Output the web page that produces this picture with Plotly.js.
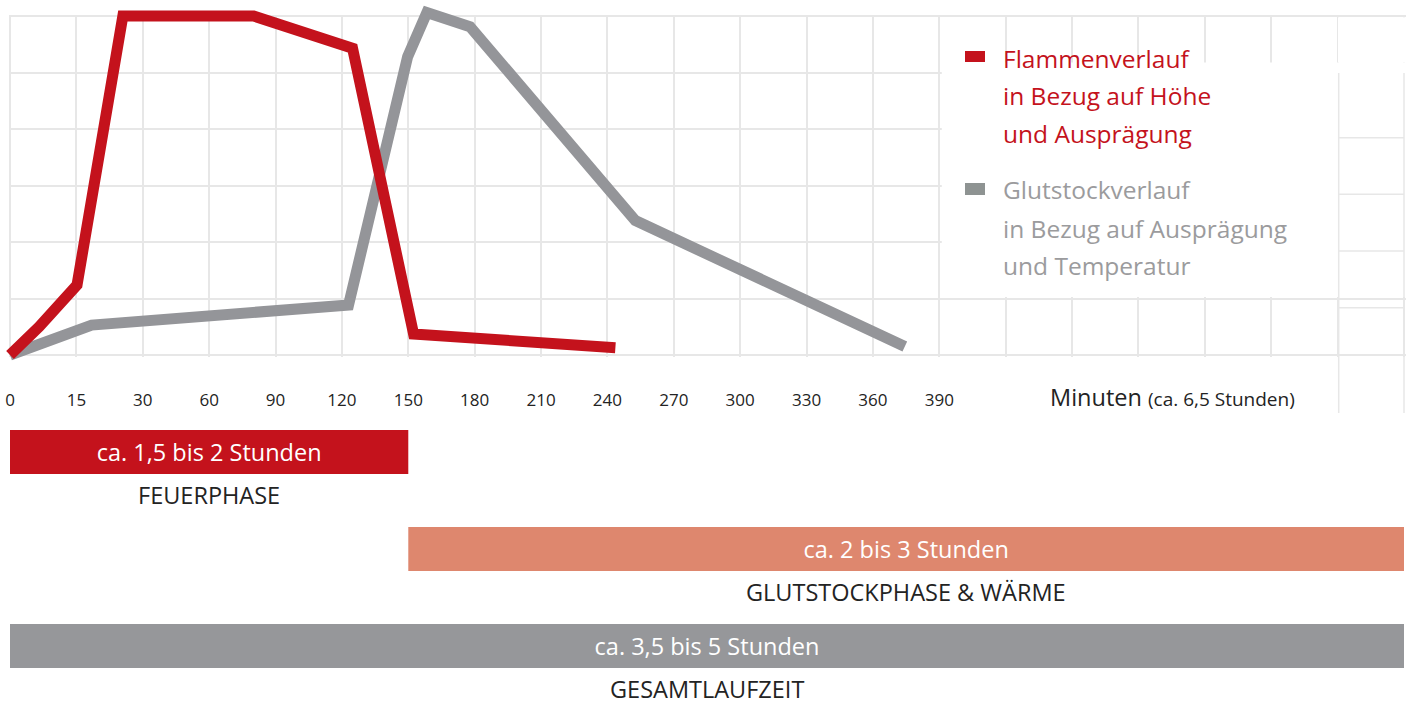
<!DOCTYPE html>
<html><head><meta charset="utf-8">
<script src="https://cdn.plot.ly/plotly-3.0.1.min.js"></script>
<style>html,body{margin:0;padding:0;background:#fff}#chart{width:1413px;height:705px}</style>
</head><body><div id="chart"></div>
<script>
// x positions are in grid-column units (one grid column per tick label step)
const tickLabels = ['0','15','30','60','90','120','150','180','210','240','270','300','330','360','390'];
const gridColumns = 21;
const gridRows = 6;

const seriesNames = ['Flammenverlauf', 'Glutstockverlauf'];
const flameX = [0, 0.44, 1.01, 1.70, 3.67, 5.16, 6.08, 9.12];
const flameY = [0, 0.50, 1.24, 6.00, 6.00, 5.43, 0.37, 0.13];
const emberX = [0, 1.23, 5.10, 5.99, 6.28, 6.93, 9.42, 13.48];
const emberY = [0, 0.53, 0.885, 5.28, 6.06, 5.81, 2.38, 0.15];

const legendLines = [
  ['Flammenverlauf', 'in Bezug auf Höhe', 'und Ausprägung'],
  ['Glutstockverlauf', 'in Bezug auf Ausprägung', 'und Temperatur']
];

const phaseStart = [0, 6, 0];
const phaseEnd = [6, 21, 21];
const phaseDuration = ['ca. 1,5 bis 2 Stunden', 'ca. 2 bis 3 Stunden', 'ca. 3,5 bis 5 Stunden'];
const phaseName = ['FEUERPHASE', 'GLUTSTOCKPHASE &amp; WÄRME', 'GESAMTLAUFZEIT'];

const axisTitle = 'Minuten';
const axisSubtitle = '(ca. 6,5 Stunden)';

// ---- styling ----
const RED = '#c4121c', GRAYLINE = '#949599', SALMON = '#de876e', GRAYBAR = '#96979a';
const LEG_GRAY_TXT = '#9b9b9d', LEG_GRAY_SQ = '#8e9392', DARK = '#232323', GRID = '#e7e7e7';
const FONT = '"Open Sans", Lato, sans-serif';

const W = 1413, H = 705;
const X = px => px / W, Y = py => 1 - py / H;
const gx0 = 10, gx1 = 1404, gy0 = 16, gy1 = 355;
const colPx = (gx1 - gx0) / gridColumns, rowPx = (gy1 - gy0) / gridRows;
const pad = 1.5; // px so the edge grid lines are drawn

const gridIdx = [];
for (let i = 0; i <= gridColumns; i++) gridIdx.push(i);
const gridText = gridIdx.map(i => tickLabels[i] !== undefined ? tickLabels[i] : '');
const rowIdx = [];
for (let j = 0; j <= gridRows; j++) rowIdx.push(j);

const barTop = 420, barBot = 705, barC0 = 452, barStep = 97;

const traces = [
  // empty trace that carries the gridded axis frame
  {type: 'scatter', mode: 'lines', x: [], y: [], xaxis: 'x', yaxis: 'y', showlegend: false, hoverinfo: 'none'},
  {type: 'scatter', mode: 'lines', name: seriesNames[1], x: emberX, y: emberY,
   xaxis: 'x2', yaxis: 'y2', line: {color: GRAYLINE, width: 11}, hoverinfo: 'x+y'},
  {type: 'scatter', mode: 'lines', name: seriesNames[0], x: flameX, y: flameY,
   xaxis: 'x2', yaxis: 'y2', line: {color: RED, width: 11}, hoverinfo: 'x+y'},
  {type: 'bar', orientation: 'h', xaxis: 'x3', yaxis: 'y3',
   y: phaseStart.map((s, i) => i), base: phaseStart,
   x: phaseEnd.map((e, i) => e - phaseStart[i]),
   width: 44 / barStep,
   marker: {color: [RED, SALMON, GRAYBAR], line: {width: 0}},
   text: phaseDuration, textposition: 'inside', insidetextanchor: 'middle',
   textfont: {color: '#ffffff', size: 23.5, family: FONT}, constraintext: 'none',
   hoverinfo: 'none', showlegend: false}
];

const shapes = [
  // legend backdrop
  {type: 'rect', xref: 'paper', yref: 'paper', x0: X(941.8), x1: X(1413), y0: Y(297), y1: Y(62.5),
   fillcolor: '#ffffff', line: {width: 0}, layer: 'above'},
  {type: 'rect', xref: 'paper', yref: 'paper', x0: X(1338), x1: X(1413), y0: Y(62.5), y1: Y(17.2),
   fillcolor: '#ffffff', line: {width: 0}, layer: 'above'},
  // legend swatches
  {type: 'rect', xref: 'paper', yref: 'paper', x0: X(965), x1: X(985), y0: Y(62), y1: Y(51),
   fillcolor: RED, line: {width: 0}, layer: 'above'},
  {type: 'rect', xref: 'paper', yref: 'paper', x0: X(965), x1: X(985), y0: Y(195), y1: Y(183),
   fillcolor: LEG_GRAY_SQ, line: {width: 0}, layer: 'above'}
];
// offset grid fragment at the right edge
[1338.7, 1404].forEach(px => shapes.push({type: 'line', xref: 'paper', yref: 'paper',
  x0: X(px), x1: X(px), y0: Y(73), y1: Y(413), line: {color: GRID, width: 1.5}, layer: 'above'}));
[137.7, 194.3, 251, 307.7].forEach(py => shapes.push({type: 'line', xref: 'paper', yref: 'paper',
  x0: X(1338.7), x1: X(1404), y0: Y(py), y1: Y(py), line: {color: GRID, width: 1.5}, layer: 'above'}));

const annotations = [];
const legBase = [[58.7, 96, 133.7], [189.7, 228.7, 265.3]];
legendLines.forEach((lines, g) => lines.forEach((t, k) => annotations.push({
  xref: 'paper', yref: 'paper', x: X(1001), y: Y(legBase[g][k]), xanchor: 'left', yanchor: 'middle',
  text: t, showarrow: false, font: {size: 24.5, color: g === 0 ? RED : LEG_GRAY_TXT, family: FONT}
})));
annotations.push({xref: 'paper', yref: 'paper', x: X(1048), y: Y(397), xanchor: 'left', yanchor: 'middle',
  text: axisTitle + ' <span style="font-size:19px">' + axisSubtitle + '</span>', showarrow: false,
  font: {size: 23.5, color: DARK, family: FONT}});
phaseName.forEach((t, i) => annotations.push({xref: 'x3', yref: 'y3',
  x: (phaseStart[i] + phaseEnd[i]) / 2, y: i + 0.445, text: t, showarrow: false, borderpad: 0,
  xanchor: 'center', yanchor: 'middle', font: {size: 23.5, color: DARK, family: FONT}}));

const layout = {
  width: W, height: H, margin: {l: 0, r: 0, t: 0, b: 0},
  paper_bgcolor: '#ffffff', plot_bgcolor: 'rgba(0,0,0,0)',
  font: {family: FONT, color: DARK}, showlegend: false, dragmode: false,
  xaxis: {domain: [X(gx0 - pad), X(gx1 + pad)], range: [-pad / colPx, gridColumns + pad / colPx], anchor: 'y',
    tickmode: 'array', tickvals: gridIdx, ticktext: gridText,
    showgrid: true, gridcolor: GRID, gridwidth: 1.5, zeroline: false, showline: false,
    ticks: 'outside', ticklen: 28.5, tickcolor: 'rgba(0,0,0,0)',
    tickfont: {size: 17, color: DARK, family: FONT}, fixedrange: true},
  yaxis: {domain: [Y(gy1 + pad), Y(gy0 - pad)], range: [-pad / rowPx, gridRows + pad / rowPx], anchor: 'x',
    tickmode: 'array', tickvals: rowIdx,
    showgrid: true, gridcolor: GRID, gridwidth: 1.5, zeroline: false, showline: false,
    showticklabels: false, ticks: '', fixedrange: true},
  xaxis2: {domain: [0, 1], range: [(0 - gx0) / colPx, (W - gx0) / colPx], anchor: 'y2',
    visible: false, fixedrange: true},
  yaxis2: {domain: [Y(380), 1], range: [-(380 - gy1) / rowPx, gy1 / rowPx], anchor: 'x2',
    visible: false, fixedrange: true},
  xaxis3: {domain: [X(gx0), X(gx1)], range: [0, gridColumns], anchor: 'y3', visible: false, fixedrange: true},
  yaxis3: {domain: [Y(barBot), Y(barTop)], range: [(barBot - barC0) / barStep, (barTop - barC0) / barStep],
    anchor: 'x3', visible: false, fixedrange: true},
  shapes: shapes, annotations: annotations
};

Plotly.newPlot('chart', traces, layout, {displayModeBar: false});
</script></body></html>
